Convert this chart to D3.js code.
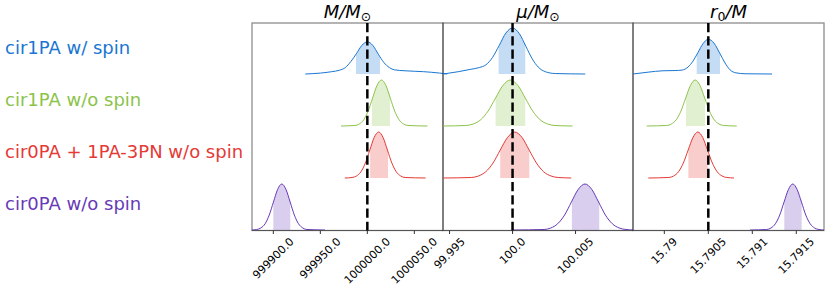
<!DOCTYPE html>
<html>
<head>
<meta charset="utf-8">
<script src="https://cdn.jsdelivr.net/npm/d3@7"></script>
<style>
  body { margin: 0; background: #fff; }
  text { font-family: "DejaVu Sans", sans-serif; }
</style>
</head>
<body>
<script>
// rows (top to bottom)
const rowLabels = ['cir1PA w/ spin', 'cir1PA w/o spin', 'cir0PA + 1PA-3PN w/o spin', 'cir0PA w/o spin'];
const rowColors = ['#1976d2', '#8bc34a', '#e53935', '#673ab7'];

// true values (dashed lines)
const truthValues = [1000000, 100.0, 15.7905];

// axis limits
const domainM = [999877.3, 1000080.5];
const domainMu = [99.99448, 100.00956];
const domainR0 = [15.789644, 15.791815];

// ticks
const ticksM = [999900, 999950, 1000000, 1000050];
const ticksMu = [99.995, 100.0, 100.005];
const ticksR0 = [15.79, 15.7905, 15.791, 15.7915];
const tickLabelsM = ['999900.0', '999950.0', '1000000.0', '1000050.0'];
const tickLabelsMu = ['99.995', '100.0', '100.005'];
const tickLabelsR0 = ['15.79', '15.7905', '15.791', '15.7915'];

// shared bell-shaped density profile (relative height)
const bell = [0, .011, .044, .135, .325, .607, .882, 1, .882, .607, .325, .135, .044, .011, 0];

// M / Msun densities
const xM = [
  [999934, 999950, 999962, 999970, 999976.6, 999982.4, 999988.3, 999994.1, 1000000, 1000005.9, 1000011.7, 1000017.6, 1000023.4, 1000029, 1000040, 1000060, 1000077, 1000085],
  [999972, 999986.8, 999991.5, 999996.2, 1000000.9, 1000005.6, 1000010.3, 1000015, 1000019.7, 1000024.4, 1000029.1, 1000033.8, 1000038.5, 1000043.2, 1000064],
  [999976, 999983.8, 999988.5, 999993.2, 999997.9, 1000002.6, 1000007.3, 1000012, 1000016.7, 1000021.4, 1000026.1, 1000030.8, 1000035.5, 1000040.2, 1000062],
  [999877, 999882.3, 999886.75, 999891.2, 999895.65, 999900.1, 999904.55, 999909, 999913.45, 999917.9, 999922.35, 999926.8, 999931.25, 999935.7, 999955]
];
const yM = [
  [0, .02, .05, .08, .14, .27, .44, .62, .70, .62, .43, .25, .14, .09, .07, .05, .02, 0],
  bell, bell, bell
];
const bandM = [[999988, 1000013.5], [1000005, 1000024], [1000003, 1000022], [999900, 999918]];

// mu / Msun densities
const xMu = [
  [99.99450, 99.99569, 99.99664, 99.99736, 99.99789, 99.99841, 99.99894, 99.99947, 100.0, 100.00053, 100.00106, 100.00156, 100.00204, 100.00260, 100.00339, 100.00577],
  [99.99450, 99.99629, 99.99688, 99.99747, 99.99806, 99.99865, 99.99924, 99.99983, 100.00042, 100.00101, 100.00160, 100.00219, 100.00278, 100.00337, 100.00476],
  [99.99450, 99.99672, 99.99730, 99.99787, 99.99845, 99.99902, 99.99960, 100.00017, 100.00075, 100.00132, 100.00190, 100.00247, 100.00305, 100.00362, 100.00466],
  [100.00006, 100.00250, 100.00304, 100.00358, 100.00413, 100.00467, 100.00521, 100.00575, 100.00629, 100.00683, 100.00737, 100.00792, 100.00846, 100.00900, 100.00958]
];
const yMu = [
  [0, .05, .10, .14, .2, .36, .62, .89, 1, .88, .6, .33, .15, .05, .01, 0],
  bell, bell, bell
];
const bandMu = [[99.99889, 100.00101], [99.99865, 100.00101], [99.99902, 100.00133], [100.00471, 100.00688]];

// r0 / M densities
const xR0 = [
  [15.789644, 15.789815, 15.789985, 15.790122, 15.790201, 15.790269, 15.790326, 15.790383, 15.790440, 15.7905, 15.790565, 15.790633, 15.790690, 15.790747, 15.790815, 15.790917, 15.791224],
  [15.789800, 15.790027, 15.790081, 15.790135, 15.790189, 15.790243, 15.790297, 15.790351, 15.790405, 15.790459, 15.790513, 15.790567, 15.790621, 15.790675, 15.790823],
  [15.789818, 15.790051, 15.790106, 15.790161, 15.790216, 15.790271, 15.790326, 15.790381, 15.790436, 15.790491, 15.790546, 15.790601, 15.790656, 15.790711, 15.790792],
  [15.790974, 15.791163, 15.791213, 15.791262, 15.791312, 15.791361, 15.791411, 15.791460, 15.791509, 15.791559, 15.791608, 15.791658, 15.791707, 15.791757, 15.791815]
];
const yR0 = [
  [0, .04, .07, .075, .085, .15, .28, .47, .66, .755, .67, .44, .24, .09, .025, .005, 0],
  bell, bell, bell
];
const bandR0 = [[15.790368, 15.790633], [15.790247, 15.790462], [15.790273, 15.790493], [15.791364, 15.791561]];

const width = 830, height = 290;
const frameTop = 23, frameBottom = 230.5;
const panelEdges = [252, 443, 633, 824];

const svg = d3.select('body').append('svg')
  .attr('width', width)
  .attr('height', height);

// row labels
const rowY = d3.scaleLinear().domain([0, 3]).range([74, 230]);
const dens = d3.scaleLinear().domain([0, 1]).range([0, 46]);

svg.selectAll('.rowlabel')
  .data(rowLabels)
  .join('text')
  .attr('class', 'rowlabel')
  .attr('x', 5)
  .attr('y', (d, i) => rowY(i) - 20)
  .style('font-size', '18px')
  .style('fill', (d, i) => rowColors[i])
  .text(d => d);

const panels = [
  {domain: domainM, xs: xM, ys: yM, bands: bandM, ticks: ticksM, labels: tickLabelsM},
  {domain: domainMu, xs: xMu, ys: yMu, bands: bandMu, ticks: ticksMu, labels: tickLabelsMu},
  {domain: domainR0, xs: xR0, ys: yR0, bands: bandR0, ticks: ticksR0, labels: tickLabelsR0}
];

panels.forEach((p, pi) => {
  const x = d3.scaleLinear().domain(p.domain).range([panelEdges[pi], panelEdges[pi + 1]]);
  const g = svg.append('g');

  // frame
  g.append('rect')
    .attr('x', panelEdges[pi]).attr('y', frameTop)
    .attr('width', panelEdges[pi + 1] - panelEdges[pi])
    .attr('height', frameBottom - frameTop)
    .style('fill', 'none')
    .style('stroke', 'rgba(0,0,0,0.45)')
    .style('stroke-width', 1.3);

  // ridges
  p.xs.forEach((xs, ri) => {
    const pts = xs.map((v, k) => [v, p.ys[ri][k]]);
    const base = rowY(ri);
    const area = d3.area().x(d => x(d[0])).y0(base).y1(d => base - dens(d[1])).curve(d3.curveMonotoneX);
    const line = d3.line().x(d => x(d[0])).y(d => base - dens(d[1])).curve(d3.curveMonotoneX);
    const clipId = `clip-${pi}-${ri}`;
    g.append('clipPath').attr('id', clipId)
      .append('rect')
      .attr('x', x(p.bands[ri][0]))
      .attr('y', 0)
      .attr('width', x(p.bands[ri][1]) - x(p.bands[ri][0]))
      .attr('height', height);
    g.append('path')
      .attr('d', area(pts))
      .attr('clip-path', `url(#${clipId})`)
      .style('fill', rowColors[ri])
      .style('fill-opacity', 0.25);
    g.append('path')
      .attr('d', line(pts))
      .style('fill', 'none')
      .style('stroke', rowColors[ri])
      .style('stroke-width', 1);
  });

  // bottom spine
  g.append('line')
    .attr('x1', panelEdges[pi]).attr('x2', panelEdges[pi + 1])
    .attr('y1', frameBottom).attr('y2', frameBottom)
    .style('stroke', '#555').style('stroke-width', 1.2);

  // ticks
  g.selectAll('.tick')
    .data(p.ticks)
    .join('line')
    .attr('x1', d => x(d)).attr('x2', d => x(d))
    .attr('y1', frameBottom).attr('y2', frameBottom + 3.5)
    .style('stroke', '#333').style('stroke-width', 1);

  const fs = 11;
  p.ticks.forEach((t, k) => {
    const lbl = g.append('text')
      .attr('text-anchor', 'middle')
      .attr('dominant-baseline', 'central')
      .style('font-size', fs + 'px')
      .style('fill', '#000')
      .text(p.labels[k]);
    const w = lbl.node().getComputedTextLength();
    const ext = (w + fs * 0.75) * Math.SQRT1_2;
    lbl.attr('transform', `translate(${x(t)},${237 + ext / 2}) rotate(-45)`);
  });

  // truth line
  g.append('line')
    .attr('x1', x(truthValues[pi])).attr('x2', x(truthValues[pi]))
    .attr('y1', frameTop).attr('y2', frameBottom)
    .style('stroke', '#000')
    .style('stroke-width', 2.5)
    .style('stroke-dasharray', '9.25,4');
});

// titles
const titleCx = [0, 1, 2].map(i => (panelEdges[i] + panelEdges[i + 1]) / 2);
const titles = svg.append('g').style('font-size', '18px');

const t1 = titles.append('text').attr('x', titleCx[0]).attr('y', 18).attr('text-anchor', 'middle');
t1.append('tspan').style('font-style', 'italic').text('M/M');
t1.append('tspan').style('font-size', '12.5px').attr('dy', 3).text('⊙');

const t2 = titles.append('text').attr('x', titleCx[1]).attr('y', 18).attr('text-anchor', 'middle');
t2.append('tspan').style('font-style', 'italic').text('μ/M');
t2.append('tspan').style('font-size', '12.5px').attr('dy', 3).text('⊙');

const t3 = titles.append('text').attr('x', titleCx[2]).attr('y', 18).attr('text-anchor', 'middle');
t3.append('tspan').style('font-style', 'italic').text('r');
t3.append('tspan').style('font-size', '12.5px').attr('dy', 3).text('0');
t3.append('tspan').style('font-style', 'italic').attr('dy', -3).text('/M');
</script>
</body>
</html>
